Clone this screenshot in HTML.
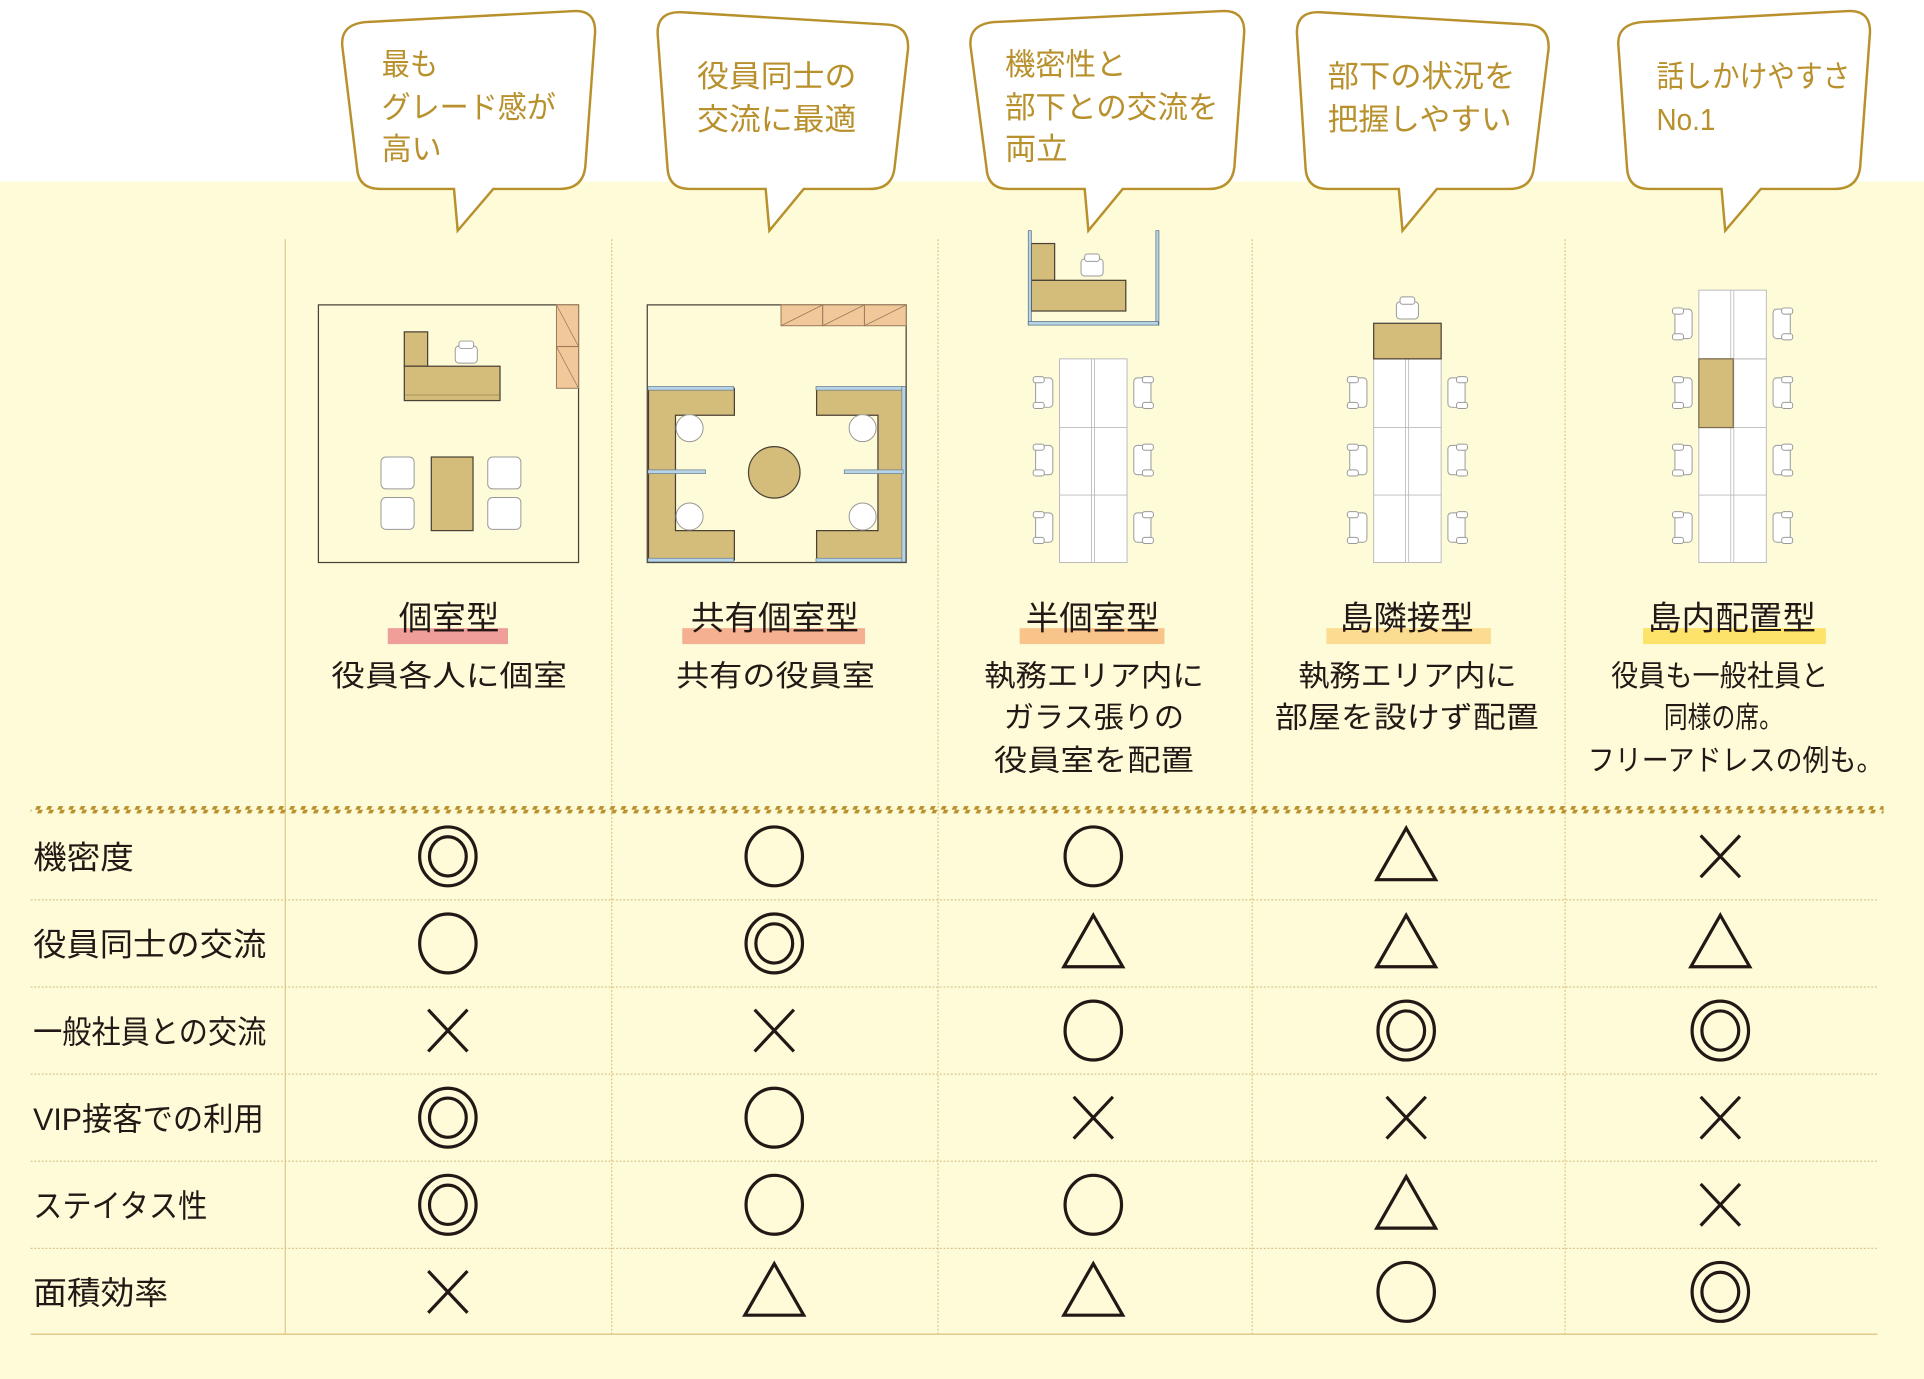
<!DOCTYPE html>
<html><head><meta charset="utf-8"><style>
html,body{margin:0;padding:0;background:#fff;}
svg{display:block;}
text{font-family:"Liberation Sans","Noto Sans CJK JP",sans-serif;}
.b{fill:#b8902c;font-size:25px;}
.t{fill:#231815;font-size:27px;}
.s{fill:#231815;font-size:24px;}
.r{fill:#231815;font-size:26px;}
.sym{fill:none;stroke:#231815;stroke-width:2.6;}
.ch{fill:#fff;stroke:#999;stroke-width:0.8;}
</style></head><body>
<svg width="1924" height="1379" viewBox="0 0 1568 1124" preserveAspectRatio="none" xmlns="http://www.w3.org/2000/svg">
<defs>
<pattern id="hatch" width="9" height="6" patternUnits="userSpaceOnUse">
<polygon points="4.5,0 8,0 5,6 1.5,6" fill="#b8902c"/>
</pattern>
<g id="o"><ellipse rx="23" ry="24" class="sym"/></g>
<g id="oo"><ellipse rx="23" ry="24" class="sym"/><ellipse rx="15" ry="16" class="sym" stroke-width="2"/></g>
<g id="tri"><polygon points="0,-23 24,19 -24,19" class="sym"/></g>
<g id="x"><path d="M-16,-17 L16,17 M16,-17 L-16,17" class="sym" stroke-width="3"/></g>
<g id="chL"><rect x="-9" y="-12" width="14" height="24" rx="3" class="ch"/><rect x="-11" y="-13" width="9" height="5" rx="2" class="ch"/><rect x="-11" y="8" width="9" height="5" rx="2" class="ch"/></g>
<g id="chU"><rect x="-9" y="-8" width="18" height="14" rx="3" class="ch"/><rect x="-6" y="-12" width="12" height="6" rx="2" class="ch"/></g>
</defs>
<rect width="1568" height="1124" fill="#fefbd8"/>
<rect width="1568" height="148" fill="#fff"/>

<line x1="232.5" y1="195" x2="232.5" y2="1087" stroke="#e3c98a" stroke-width="1"/>
<g stroke="#dcc58a" stroke-width="1" stroke-dasharray="1.5,1.5">
<line x1="498.5" y1="195" x2="498.5" y2="1087"/>
<line x1="764.5" y1="195" x2="764.5" y2="1087"/>
<line x1="1020.5" y1="195" x2="1020.5" y2="1087"/>
<line x1="1275.5" y1="195" x2="1275.5" y2="1087"/>
</g>

<g fill="#fff" stroke="#b8902c" stroke-width="2">
<path d="M298,18 L468,9 Q485,8 485,26 L477,136 Q475,154 456,154 L402,154 L373,188 L370,154 L310,154 Q292,154 291,137 L279,38 Q277,20 298,18 Z"/>
<path d="M556,10 L723,20 Q741,21 740,40 L729,137 Q727,154 709,154 L655,154 L627,188 L624,154 L562,154 Q545,154 544,137 L536,28 Q535,9 556,10 Z"/>
<path d="M810,18 L996,9 Q1014,8 1014,26 L1006,136 Q1004,154 985,154 L915,154 L887,188 L884,154 L822,154 Q805,154 804,137 L791,38 Q789,20 810,18 Z"/>
<path d="M1076,10 L1245,20 Q1263,21 1262,40 L1250,137 Q1248,154 1230,154 L1171,154 L1143,188 L1140,154 L1082,154 Q1065,154 1064,137 L1057,28 Q1056,9 1076,10 Z"/>
<path d="M1338,18 L1506,9 Q1524,8 1524,26 L1516,136 Q1514,154 1495,154 L1435,154 L1406,188 L1403,154 L1344,154 Q1327,154 1326,137 L1319,38 Q1317,20 1338,18 Z"/>
</g>
<text class="b" x="311" y="61" textLength="46" lengthAdjust="spacingAndGlyphs">最も</text>
<text class="b" x="311" y="96" textLength="142" lengthAdjust="spacingAndGlyphs">グレード感が</text>
<text class="b" x="311" y="130" textLength="49" lengthAdjust="spacingAndGlyphs">高い</text>
<text class="b" x="568" y="71" textLength="130" lengthAdjust="spacingAndGlyphs">役員同士の</text>
<text class="b" x="568" y="106" textLength="130" lengthAdjust="spacingAndGlyphs">交流に最適</text>
<text class="b" x="819" y="61" textLength="99" lengthAdjust="spacingAndGlyphs">機密性と</text>
<text class="b" x="819" y="96" textLength="174" lengthAdjust="spacingAndGlyphs">部下との交流を</text>
<text class="b" x="819" y="130" textLength="51" lengthAdjust="spacingAndGlyphs">両立</text>
<text class="b" x="1082" y="71" textLength="153" lengthAdjust="spacingAndGlyphs">部下の状況を</text>
<text class="b" x="1082" y="106" textLength="150" lengthAdjust="spacingAndGlyphs">把握しやすい</text>
<text class="b" x="1350" y="71" textLength="158" lengthAdjust="spacingAndGlyphs">話しかけやすさ</text>
<text class="b" x="1350" y="106" textLength="48" lengthAdjust="spacingAndGlyphs">No.1</text>

<rect x="259.5" y="248.5" width="212" height="210" fill="none" stroke="#4a4036" stroke-width="1"/>
<rect x="453.5" y="248.5" width="18" height="34" fill="#f0c89a" stroke="#9a7a5a" stroke-width="0.8"/>
<rect x="453.5" y="282.5" width="18" height="34" fill="#f0c89a" stroke="#9a7a5a" stroke-width="0.8"/>
<path d="M453.5,248.5 L471.5,282.5 M453.5,282.5 L471.5,316.5" stroke="#9a7a5a" stroke-width="0.6"/>
<rect x="329.5" y="270.5" width="19" height="28" fill="#d4bd7a" stroke="#4a4036" stroke-width="1"/>
<rect x="329.5" y="298.5" width="78" height="28" fill="#d4bd7a" stroke="#4a4036" stroke-width="1"/>
<line x1="330" y1="322" x2="407" y2="322" stroke="#9a8858" stroke-width="0.6"/>
<use href="#chU" x="380" y="290"/>
<rect x="310.5" y="372.5" width="27" height="26" rx="4" class="ch"/>
<rect x="310.5" y="405.5" width="27" height="26" rx="4" class="ch"/>
<rect x="397.5" y="372.5" width="27" height="26" rx="4" class="ch"/>
<rect x="397.5" y="405.5" width="27" height="26" rx="4" class="ch"/>
<rect x="351.5" y="372.5" width="34" height="60" fill="#d4bd7a" stroke="#4a4036" stroke-width="1"/>

<rect x="527.5" y="248.5" width="211" height="210" fill="none" stroke="#4a4036" stroke-width="1"/>
<g fill="#f0c89a" stroke="#9a7a5a" stroke-width="0.8">
<rect x="636.5" y="248.5" width="34" height="17"/><rect x="670.5" y="248.5" width="34" height="17"/><rect x="704.5" y="248.5" width="34" height="17"/>
</g>
<path d="M636.5,265.5 L670.5,248.5 M670.5,265.5 L704.5,248.5 M704.5,265.5 L738.5,248.5" stroke="#9a7a5a" stroke-width="0.6"/>
<path d="M528.5,316.5 H598.5 V338.5 H550.5 V432.5 H598.5 V456.5 H528.5 Z" fill="#d4bd7a" stroke="#4a4036" stroke-width="1"/>
<path d="M736.5,316.5 H665.5 V338.5 H715.5 V432.5 H665.5 V456.5 H736.5 Z" fill="#d4bd7a" stroke="#4a4036" stroke-width="1"/>
<g fill="#b6d4e6" stroke="#5c7080" stroke-width="0.5">
<rect x="528" y="315" width="70" height="3"/><rect x="528" y="455" width="70" height="3"/>
<rect x="665" y="315" width="72" height="3"/><rect x="665" y="455" width="72" height="3"/>
<rect x="735" y="315" width="3" height="143"/>
<rect x="528" y="383" width="47" height="3"/><rect x="688" y="383" width="48" height="3"/>
</g>
<circle cx="631" cy="385" r="21" fill="#d4bd7a" stroke="#4a4036" stroke-width="1"/>
<circle cx="562" cy="349" r="11" class="ch"/><circle cx="562" cy="421" r="11" class="ch"/>
<circle cx="703" cy="349" r="11" class="ch"/><circle cx="703" cy="421" r="11" class="ch"/>

<rect x="840.5" y="198.5" width="19" height="30" fill="#d4bd7a" stroke="#4a4036" stroke-width="1"/>
<rect x="840.5" y="228.5" width="77" height="25" fill="#d4bd7a" stroke="#4a4036" stroke-width="1"/>
<use href="#chU" x="890" y="219"/>
<g fill="#b6d4e6" stroke="#5c7080" stroke-width="0.6">
<rect x="838" y="188" width="2.5" height="77"/><rect x="942" y="188" width="2.5" height="77"/><rect x="838" y="262" width="106" height="3"/>
</g>
<g id="isl">
<rect x="863.5" y="292.5" width="55" height="166" fill="#fff" stroke="#bbb" stroke-width="0.8"/>
<path d="M863.5,348.5 H918.5 M863.5,403.5 H918.5 M889.5,292.5 V458.5 M892,292.5 V458.5" stroke="#bbb" stroke-width="0.7"/>
<use href="#chL" x="853" y="320"/><use href="#chL" x="853" y="375"/><use href="#chL" x="853" y="430"/>
<use href="#chL" transform="translate(929,320) scale(-1,1)"/><use href="#chL" transform="translate(929,375) scale(-1,1)"/><use href="#chL" transform="translate(929,430) scale(-1,1)"/>
</g>

<use href="#isl" x="256" y="0"/>
<rect x="1119.5" y="263.5" width="55" height="29" fill="#d4bd7a" stroke="#4a4036" stroke-width="1"/>
<use href="#chU" x="1147" y="254"/>

<use href="#isl" x="521" y="0"/>
<rect x="1384.5" y="236.5" width="55" height="56" fill="#fff" stroke="#bbb" stroke-width="0.8"/>
<path d="M1410.5,236.5 V292.5 M1413,236.5 V292.5" stroke="#bbb" stroke-width="0.7"/>
<use href="#chL" x="1374" y="264"/><use href="#chL" transform="translate(1450,264) scale(-1,1)"/>
<rect x="1384.5" y="292.5" width="28" height="56" fill="#d4bd7a" stroke="#7a6a4a" stroke-width="1"/>

<rect x="316" y="512" width="98" height="13" fill="#f09e9a"/>
<rect x="556" y="512" width="149" height="13" fill="#f4b090"/>
<rect x="831" y="512" width="118" height="13" fill="#f8c48a"/>
<rect x="1081" y="512" width="134" height="13" fill="#fbdc90"/>
<rect x="1339" y="512" width="149" height="13" fill="#fde36a"/>
<text class="t" x="325" y="513" textLength="82" lengthAdjust="spacingAndGlyphs">個室型</text>
<text class="t" x="563" y="513" textLength="137" lengthAdjust="spacingAndGlyphs">共有個室型</text>
<text class="t" x="836" y="513" textLength="109" lengthAdjust="spacingAndGlyphs">半個室型</text>
<text class="t" x="1092" y="513" textLength="109" lengthAdjust="spacingAndGlyphs">島隣接型</text>
<text class="t" x="1343" y="513" textLength="137" lengthAdjust="spacingAndGlyphs">島内配置型</text>

<text class="s" x="270" y="559" textLength="192" lengthAdjust="spacingAndGlyphs">役員各人に個室</text>
<text class="s" x="551" y="559" textLength="162" lengthAdjust="spacingAndGlyphs">共有の役員室</text>
<text class="s" x="802" y="559" textLength="179" lengthAdjust="spacingAndGlyphs">執務エリア内に</text>
<text class="s" x="818" y="593" textLength="147" lengthAdjust="spacingAndGlyphs">ガラス張りの</text>
<text class="s" x="810" y="628" textLength="163" lengthAdjust="spacingAndGlyphs">役員室を配置</text>
<text class="s" x="1058" y="559" textLength="178" lengthAdjust="spacingAndGlyphs">執務エリア内に</text>
<text class="s" x="1039" y="593" textLength="215" lengthAdjust="spacingAndGlyphs">部屋を設けず配置</text>
<text class="s" x="1313" y="559" textLength="177" lengthAdjust="spacingAndGlyphs">役員も一般社員と</text>
<text class="s" x="1356" y="593" textLength="97" lengthAdjust="spacingAndGlyphs">同様の席。</text>
<text class="s" x="1294" y="628" textLength="241" lengthAdjust="spacingAndGlyphs">フリーアドレスの例も。</text>

<rect x="25" y="657" width="1510" height="6" fill="url(#hatch)"/>

<g stroke="#d9c58a" stroke-width="1" stroke-dasharray="1.5,1.5">
<line x1="25" y1="733.5" x2="1530" y2="733.5"/>
<line x1="25" y1="804.5" x2="1530" y2="804.5"/>
<line x1="25" y1="875.5" x2="1530" y2="875.5"/>
<line x1="25" y1="946.5" x2="1530" y2="946.5"/>
<line x1="25" y1="1017.5" x2="1530" y2="1017.5"/>
</g>
<line x1="25" y1="1087.5" x2="1530" y2="1087.5" stroke="#e3c98a" stroke-width="1.2"/>

<text class="r" x="27" y="708" textLength="82" lengthAdjust="spacingAndGlyphs">機密度</text>
<text class="r" x="27" y="779" textLength="190" lengthAdjust="spacingAndGlyphs">役員同士の交流</text>
<text class="r" x="27" y="850" textLength="190" lengthAdjust="spacingAndGlyphs">一般社員との交流</text>
<text class="r" x="27" y="921" textLength="188" lengthAdjust="spacingAndGlyphs">VIP接客での利用</text>
<text class="r" x="27" y="992" textLength="142" lengthAdjust="spacingAndGlyphs">ステイタス性</text>
<text class="r" x="27" y="1063" textLength="110" lengthAdjust="spacingAndGlyphs">面積効率</text>

<use href="#oo" x="365" y="698"/><use href="#o" x="631" y="698"/><use href="#o" x="891" y="698"/><use href="#tri" x="1146" y="698"/><use href="#x" x="1402" y="698"/>
<use href="#o" x="365" y="769"/><use href="#oo" x="631" y="769"/><use href="#tri" x="891" y="769"/><use href="#tri" x="1146" y="769"/><use href="#tri" x="1402" y="769"/>
<use href="#x" x="365" y="840"/><use href="#x" x="631" y="840"/><use href="#o" x="891" y="840"/><use href="#oo" x="1146" y="840"/><use href="#oo" x="1402" y="840"/>
<use href="#oo" x="365" y="911"/><use href="#o" x="631" y="911"/><use href="#x" x="891" y="911"/><use href="#x" x="1146" y="911"/><use href="#x" x="1402" y="911"/>
<use href="#oo" x="365" y="982"/><use href="#o" x="631" y="982"/><use href="#o" x="891" y="982"/><use href="#tri" x="1146" y="982"/><use href="#x" x="1402" y="982"/>
<use href="#x" x="365" y="1053"/><use href="#tri" x="631" y="1053"/><use href="#tri" x="891" y="1053"/><use href="#o" x="1146" y="1053"/><use href="#oo" x="1402" y="1053"/>
</svg>
</body></html>
